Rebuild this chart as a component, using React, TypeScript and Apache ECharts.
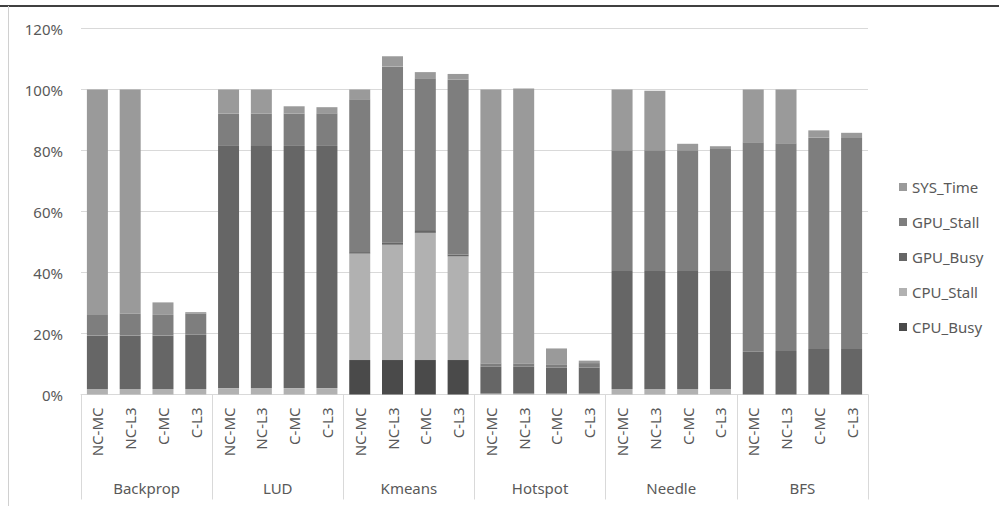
import React, { useEffect, useRef } from "react";
import * as echarts from "echarts";

const groups = ["Backprop", "LUD", "Kmeans", "Hotspot", "Needle", "BFS"];
const configs = ["NC-MC", "NC-L3", "C-MC", "C-L3"];
const categories = groups.flatMap(() => configs);

const cpuBusy = [0, 0, 0, 0, 0, 0, 0, 0, 11.3, 11.3, 11.3, 11.3, 0, 0, 0, 0, 0, 0, 0, 0, 0, 0, 0, 0];
const cpuStall = [1.8, 1.8, 1.8, 1.8, 2.1, 2.1, 2.1, 2.1, 34.9, 37.8, 41.7, 34.0, 0.3, 0.3, 0.3, 0.3, 1.8, 1.8, 1.8, 1.8, 0, 0, 0, 0];
const gpuBusy = [17.5, 17.5, 17.5, 17.8, 79.6, 79.4, 79.4, 79.4, 0.5, 0.8, 0.9, 0.6, 8.8, 8.8, 8.5, 8.5, 38.7, 38.7, 38.7, 38.7, 14.0, 14.3, 14.9, 14.9];
const gpuStall = [6.8, 7.2, 6.8, 7.0, 10.4, 10.6, 10.6, 10.7, 50.1, 57.6, 49.8, 57.4, 1.1, 1.1, 1.1, 1.5, 39.6, 39.6, 39.6, 40.0, 68.7, 68.1, 69.4, 69.2];
const sysTime = [73.9, 73.5, 4.1, 0.4, 7.9, 7.9, 2.4, 2.0, 3.2, 3.4, 2.0, 1.8, 89.8, 90.1, 5.2, 0.8, 19.9, 19.5, 2.1, 0.9, 17.3, 17.6, 2.3, 1.7];

const seriesNames = ["CPU_Busy", "CPU_Stall", "GPU_Busy", "GPU_Stall", "SYS_Time"];
const seriesValues = [cpuBusy, cpuStall, gpuBusy, gpuStall, sysTime];
const seriesColors = ["#4a4a4a", "#b1b1b1", "#666666", "#7e7e7e", "#9a9a9a"];

const FONT = "Noto Sans";
const TXT = "#595959";

export default function App() {
  const ref = useRef<HTMLDivElement>(null);
  useEffect(() => {
    if (!ref.current) return;
    const chart = echarts.init(ref.current, null, { renderer: "svg" });
    chart.setOption({
      animation: false,
      backgroundColor: "#ffffff",
      textStyle: { fontFamily: FONT },
      grid: { left: 81, right: 131, top: 28.5, bottom: 111.5, containLabel: false },
      legend: {
        orient: "vertical",
        left: 894,
        top: 173,
        icon: "rect",
        itemWidth: 8,
        itemHeight: 8,
        itemGap: 17,
        data: ["SYS_Time", "GPU_Stall", "GPU_Busy", "CPU_Stall", "CPU_Busy"],
        textStyle: { fontFamily: FONT, fontSize: 15, color: TXT, lineHeight: 18 },
      },
      xAxis: [
        {
          type: "category",
          data: categories,
          axisLine: { lineStyle: { color: "#d9d9d9" } },
          axisTick: { show: false },
          axisLabel: { interval: 0, rotate: 90, margin: 13, fontSize: 15, color: TXT, fontFamily: FONT },
        },
        {
          type: "category",
          data: groups,
          position: "bottom",
          axisLine: { show: false },
          axisTick: { show: true, length: 105, lineStyle: { color: "#d9d9d9" } },
          axisLabel: { interval: 0, margin: 86, fontSize: 15, color: TXT, fontFamily: FONT },
        },
      ],
      yAxis: {
        type: "value",
        min: 0,
        max: 120,
        interval: 20,
        axisLine: { show: false },
        axisTick: { show: false },
        splitLine: { lineStyle: { color: "#d9d9d9" } },
        axisLabel: { formatter: "{value}%", margin: 18, fontSize: 15, color: TXT, fontFamily: FONT },
      },
      series: seriesNames.map((name, i) => ({
        name,
        type: "bar",
        stack: "total",
        xAxisIndex: 0,
        barWidth: 21,
        itemStyle: { color: seriesColors[i] },
        data: seriesValues[i],
      })),
      graphic: [
        { type: "line", shape: { x1: 0, y1: 6, x2: 999, y2: 6 }, style: { stroke: "#000000", lineWidth: 1.5 } },
        { type: "line", shape: { x1: 8.5, y1: 6, x2: 8.5, y2: 506 }, style: { stroke: "#d0d0d0", lineWidth: 1 } },
      ],
    });
    return () => chart.dispose();
  }, []);
  return <div ref={ref} style={{ position: "absolute", left: 0, top: 0, width: 999, height: 506 }} />;
}
